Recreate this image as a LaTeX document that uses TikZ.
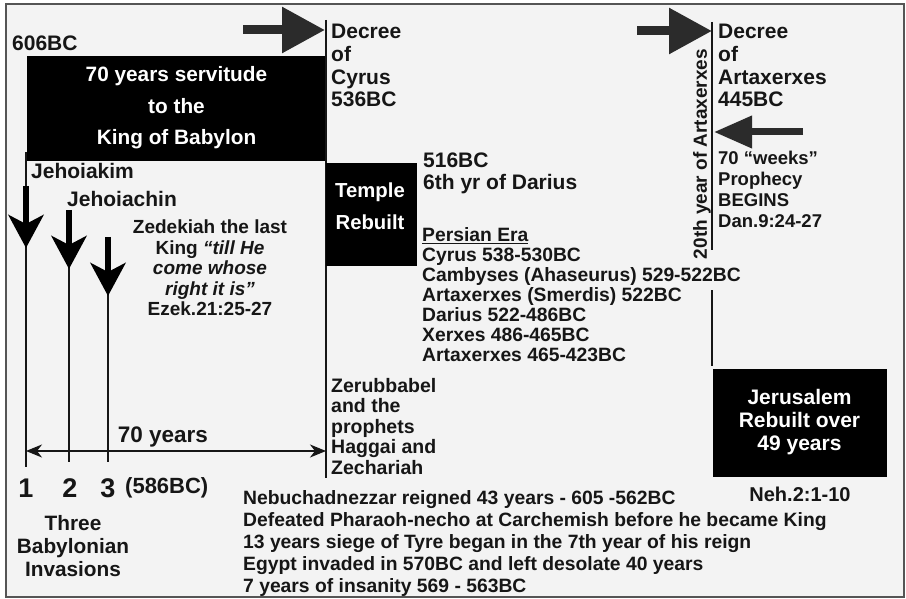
\documentclass[tikz,border=0pt]{standalone}
\usepackage{fontspec}
\setmainfont{Liberation Sans}
\usetikzlibrary{arrows.meta}
\definecolor{ink}{HTML}{161616}
\definecolor{bg}{HTML}{F3F3F3}
\definecolor{framec}{HTML}{555555}
\definecolor{arrowc}{HTML}{2B2B2B}
\newcommand\tsz[2]{\fontsize{#1}{#2}\selectfont}
\begin{document}
\begin{tikzpicture}[x=1pt,y=-1pt,
  every node/.style={inner sep=0pt, text=ink, font=\bfseries\tsz{20}{22}},
  lbl/.style={align=left, anchor=north west},
  blackbox/.style={fill=black, draw=black, text=white, align=center},
  thinline/.style={draw=ink, line width=1.3pt},
  bigarrow/.style={draw=arrowc, line width=9pt, -{Triangle[length=43pt,width=44pt]}},
  leftarrow/.style={draw=arrowc, line width=7pt, -{Triangle[length=38pt,width=31pt]}},
  downarrow/.style={draw=black, line width=6pt, -{Stealth[length=33pt,width=35pt,inset=9pt]}},
  spanarrow/.style={draw=ink, line width=2pt, {Stealth[length=16pt,width=13pt,inset=5pt]}-{Stealth[length=16pt,width=13pt,inset=5pt]}},
]
\useasboundingbox (0,0) rectangle (906,599);
\fill[white] (0,0) rectangle (906,599);
\fill[bg] (6,4) rectangle (904,597);
\draw[framec, line width=1.5pt] (6,4) rectangle (904,597);

% ---- left part
\node[anchor=west, font=\bfseries\tsz{21}{22}] (bc606) at (12,43) {606BC};
\node[blackbox, minimum width=299pt, minimum height=104pt, font=\bfseries\tsz{20.8}{31.5}] (babylon) at (176.5,108) {70 years servitude\\to the\\King of Babylon};

% timelines of the invasions
\coordinate (t1top) at (26,152); \coordinate (t1bot) at (26,467);
\coordinate (t2top) at (69,212); \coordinate (t2bot) at (69,462);
\coordinate (t3top) at (108,239); \coordinate (t3bot) at (108,462);
\draw[thinline] (t1top) -- (t1bot);
\draw[thinline] (t2top) -- (t2bot);
\draw[thinline] (t3top) -- (t3bot);
\coordinate (a1s) at (26,186); \coordinate (a1e) at (26,248);
\coordinate (a2s) at (69,210); \coordinate (a2e) at (69,269);
\coordinate (a3s) at (108,237); \coordinate (a3e) at (108,296);
\draw[downarrow] (a1s) -- (a1e);
\draw[downarrow] (a2s) -- (a2e);
\draw[downarrow] (a3s) -- (a3e);

\node[anchor=west, font=\bfseries\tsz{21}{22}] (jehoiakim) at (31,171) {Jehoiakim};
\node[anchor=west, font=\bfseries\tsz{21}{22}] (jehoiachin) at (67,199) {Jehoiachin};
\node[align=center, font=\bfseries\tsz{19}{20.5}] (zedekiah) at (210,268) {Zedekiah the last\\King \textit{“till He}\\\textit{come whose}\\\textit{right it is”}\\Ezek.21:25-27};

% 70 years span
\coordinate (spanl) at (26,451); \coordinate (spanr) at (326,451);
\draw[spanarrow] (spanl) -- (spanr);
\node[font=\bfseries\tsz{22.5}{24}] (seventy) at (163,437) {70 years};

\node[font=\bfseries\tsz{27}{28}] (n1) at (26,488) {1};
\node[font=\bfseries\tsz{27}{28}] (n2) at (70,488) {2};
\node[font=\bfseries\tsz{27}{28}] (n3) at (108,488) {3};
\node[anchor=west, font=\bfseries\tsz{22}{24}] (bc586) at (125,488) {(586BC)};
\node[align=center, font=\bfseries\tsz{20.8}{23}] (three) at (73,546) {Three\\Babylonian\\Invasions};

% ---- Cyrus
\coordinate (cyrtail) at (243,30); \coordinate (cyrtip) at (325,30);
\draw[bigarrow] (cyrtail) -- (cyrtip);
\coordinate (cyrtop) at (326,20); \coordinate (cyrbot) at (326,478);
\draw[thinline] (cyrtop) -- (cyrbot);
\node[lbl, font=\bfseries\tsz{21}{22.7}] (decreecyrus) at (331,24) {Decree\\of\\Cyrus\\536BC};

\node[blackbox, minimum width=90pt, minimum height=102pt] (temple) at (371,214) {};
\node[text=white, align=center, font=\bfseries\tsz{20.3}{32}] (templetext) at (370,206) {Temple\\Rebuilt};

\node[lbl, font=\bfseries\tsz{21}{22}] (darius) at (423,153) {516BC\\6th yr of Darius};
\node[lbl, font=\bfseries\tsz{19.3}{20}] (persian) at (422,227) {\underline{Persian Era}\\Cyrus 538-530BC\\Cambyses (Ahaseurus) 529-522BC\\Artaxerxes (Smerdis) 522BC\\Darius 522-486BC\\Xerxes 486-465BC\\Artaxerxes 465-423BC};

\node[lbl, font=\bfseries\tsz{19.5}{20.5}] (zerub) at (331,378) {Zerubbabel\\and the\\prophets\\Haggai and\\Zechariah};

\node[lbl, font=\bfseries\tsz{19.3}{22.2}] (nebu) at (243,490) {Nebuchadnezzar reigned 43 years - 605 -562BC\\Defeated Pharaoh-necho at Carchemish before he became King\\13 years siege of Tyre began in the 7th year of his reign\\Egypt invaded in 570BC and left desolate 40 years\\7 years of insanity 569 - 563BC};

% ---- Artaxerxes
\coordinate (arttail) at (637,31); \coordinate (arttip) at (712,31);
\draw[bigarrow] (arttail) -- (arttip);
\coordinate (artl1) at (712,22); \coordinate (artl2) at (712,250);
\coordinate (artl3) at (712,290); \coordinate (artl4) at (712,366);
\draw[thinline] (artl1) -- (artl2);
\draw[thinline] (artl3) -- (artl4);
\node[rotate=90, font=\bfseries\tsz{19}{20}] (twentieth) at (702,154) {20th year of Artaxerxes};
\node[lbl, font=\bfseries\tsz{21}{22.7}] (decreeart) at (718,24) {Decree\\of\\Artaxerxes\\445BC};
\coordinate (wtail) at (803,132); \coordinate (wtip) at (714,132);
\draw[leftarrow] (wtail) -- (wtip);
\node[lbl, font=\bfseries\tsz{18.5}{21}] (weeks) at (718,151) {70 “weeks”\\Prophecy\\BEGINS\\Dan.9:24-27};

\node[blackbox, minimum width=173pt, minimum height=107pt, font=\bfseries\tsz{21}{23}] (jerusalem) at (799.5,422.5) {Jerusalem\\Rebuilt over\\49 years};
\node[font=\bfseries\tsz{20}{22}] (neh) at (800,494) {Neh.2:1-10};
\end{tikzpicture}
\end{document}
